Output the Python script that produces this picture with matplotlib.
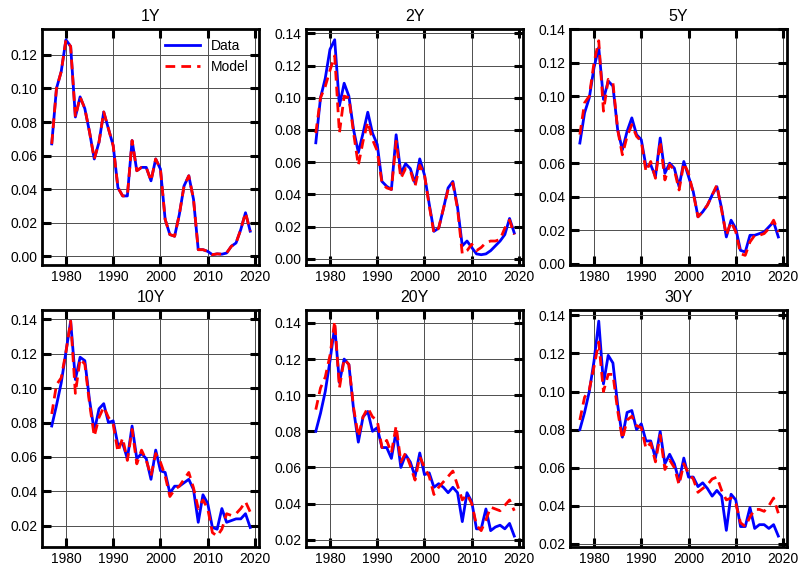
import numpy as np
import matplotlib
matplotlib.use("Agg")
import matplotlib.pyplot as plt

plt.rcParams['font.family'] = ['Liberation Sans', 'DejaVu Sans']

years = np.arange(1977, 2020)
titles = ['1Y', '2Y', '5Y', '10Y', '20Y', '30Y']

data_1y = [0.067, 0.100, 0.110, 0.129, 0.125, 0.083, 0.095, 0.088, 0.074, 0.058,
           0.068, 0.086, 0.076, 0.066, 0.041, 0.036, 0.036, 0.069, 0.051, 0.053,
           0.053, 0.045, 0.058, 0.052, 0.022, 0.013, 0.012, 0.025, 0.042, 0.048,
           0.034, 0.004, 0.004, 0.003, 0.001, 0.0015, 0.0013, 0.002, 0.006, 0.008,
           0.016, 0.026, 0.015]
model_1y = [0.067, 0.100, 0.110, 0.129, 0.125, 0.083, 0.095, 0.088, 0.074, 0.058,
            0.068, 0.086, 0.076, 0.066, 0.041, 0.036, 0.036, 0.069, 0.051, 0.053,
            0.053, 0.045, 0.058, 0.052, 0.022, 0.013, 0.012, 0.025, 0.042, 0.048,
            0.034, 0.004, 0.004, 0.003, 0.001, 0.0015, 0.0013, 0.002, 0.006, 0.008,
            0.016, 0.026, 0.015]

data_2y = [0.072, 0.100, 0.112, 0.130, 0.136, 0.095, 0.109, 0.101, 0.080, 0.066,
           0.078, 0.091, 0.078, 0.071, 0.048, 0.045, 0.043, 0.077, 0.053, 0.059,
           0.056, 0.047, 0.062, 0.052, 0.034, 0.017, 0.019, 0.031, 0.044, 0.048,
           0.032, 0.008, 0.011, 0.007, 0.003, 0.0025, 0.003, 0.005, 0.008, 0.011,
           0.015, 0.025, 0.016]
model_2y = [0.078, 0.100, 0.107, 0.117, 0.126, 0.078, 0.101, 0.100, 0.078, 0.058,
            0.073, 0.085, 0.074, 0.067, 0.047, 0.044, 0.043, 0.073, 0.050, 0.056,
            0.055, 0.045, 0.058, 0.052, 0.033, 0.016, 0.019, 0.031, 0.043, 0.047,
            0.031, 0.003, 0.005, 0.009, 0.005, 0.007, 0.010, 0.011, 0.011, 0.012,
            0.019, 0.024, 0.015]

data_5y = [0.072, 0.090, 0.099, 0.117, 0.129, 0.098, 0.109, 0.106, 0.080, 0.068,
           0.079, 0.087, 0.077, 0.074, 0.058, 0.059, 0.052, 0.075, 0.054, 0.060,
           0.057, 0.046, 0.061, 0.052, 0.043, 0.028, 0.031, 0.035, 0.041, 0.046,
           0.033, 0.016, 0.026, 0.021, 0.008, 0.007, 0.017, 0.017, 0.018, 0.019,
           0.022, 0.025, 0.016]
model_5y = [0.077, 0.096, 0.100, 0.120, 0.133, 0.091, 0.110, 0.108, 0.080, 0.065,
            0.076, 0.083, 0.076, 0.073, 0.055, 0.061, 0.051, 0.073, 0.050, 0.059,
            0.056, 0.044, 0.060, 0.054, 0.042, 0.028, 0.031, 0.035, 0.041, 0.047,
            0.032, 0.017, 0.025, 0.019, 0.006, 0.005, 0.013, 0.017, 0.017, 0.018,
            0.021, 0.026, 0.019]

data_10y = [0.078, 0.090, 0.103, 0.121, 0.139, 0.105, 0.118, 0.116, 0.093, 0.075,
            0.088, 0.091, 0.080, 0.081, 0.067, 0.068, 0.059, 0.078, 0.059, 0.062,
            0.059, 0.047, 0.064, 0.052, 0.051, 0.039, 0.043, 0.043, 0.045, 0.047,
            0.041, 0.022, 0.038, 0.033, 0.019, 0.018, 0.030, 0.022, 0.023, 0.024,
            0.024, 0.027, 0.019]
model_10y = [0.085, 0.102, 0.106, 0.121, 0.139, 0.097, 0.117, 0.114, 0.091, 0.072,
             0.083, 0.089, 0.083, 0.079, 0.063, 0.071, 0.058, 0.076, 0.056, 0.064,
             0.058, 0.049, 0.062, 0.057, 0.049, 0.037, 0.041, 0.043, 0.047, 0.051,
             0.042, 0.030, 0.035, 0.030, 0.016, 0.014, 0.018, 0.027, 0.026, 0.027,
             0.030, 0.034, 0.028]

data_20y = [0.080, 0.090, 0.102, 0.119, 0.138, 0.107, 0.120, 0.117, 0.092, 0.074,
            0.088, 0.091, 0.080, 0.082, 0.071, 0.071, 0.065, 0.080, 0.060, 0.067,
            0.063, 0.055, 0.068, 0.056, 0.057, 0.049, 0.051, 0.049, 0.046, 0.049,
            0.046, 0.030, 0.046, 0.041, 0.026, 0.026, 0.037, 0.025, 0.027, 0.028,
            0.026, 0.029, 0.022]
model_20y = [0.092, 0.104, 0.110, 0.122, 0.141, 0.104, 0.120, 0.117, 0.093, 0.077,
             0.088, 0.093, 0.088, 0.086, 0.071, 0.075, 0.068, 0.083, 0.063, 0.068,
             0.061, 0.053, 0.066, 0.060, 0.055, 0.045, 0.049, 0.052, 0.055, 0.058,
             0.050, 0.042, 0.045, 0.040, 0.028, 0.025, 0.031, 0.038, 0.037, 0.036,
             0.039, 0.042, 0.036]

data_30y = [0.080, 0.089, 0.100, 0.116, 0.137, 0.104, 0.119, 0.115, 0.093, 0.076,
            0.089, 0.090, 0.080, 0.083, 0.074, 0.074, 0.065, 0.079, 0.062, 0.067,
            0.062, 0.053, 0.065, 0.055, 0.055, 0.050, 0.052, 0.049, 0.045, 0.048,
            0.045, 0.027, 0.046, 0.043, 0.029, 0.029, 0.039, 0.028, 0.030, 0.030,
            0.028, 0.030, 0.024]
model_30y = [0.085, 0.097, 0.101, 0.113, 0.126, 0.100, 0.109, 0.109, 0.090, 0.075,
             0.085, 0.087, 0.082, 0.081, 0.070, 0.073, 0.063, 0.077, 0.059, 0.064,
             0.060, 0.051, 0.062, 0.057, 0.054, 0.047, 0.049, 0.051, 0.054, 0.055,
             0.048, 0.043, 0.044, 0.041, 0.031, 0.029, 0.034, 0.038, 0.038, 0.037,
             0.040, 0.044, 0.036]

data_all = [data_1y, data_2y, data_5y, data_10y, data_20y, data_30y]
model_all = [model_1y, model_2y, model_5y, model_10y, model_20y, model_30y]

fig, axes = plt.subplots(2, 3, figsize=(7.98, 5.69), dpi=100)
plt.subplots_adjust(left=0.053, right=0.986, top=0.949, bottom=0.039,
                    wspace=0.22, hspace=0.19)

for i, ax in enumerate(axes.flat):
    ax.plot(years, data_all[i], color='#0000ff', lw=2, label='Data')
    ax.plot(years, model_all[i], color='#ff0000', lw=2, ls=(0, (3.5, 2.2)), label='Model')
    ax.set_title(titles[i], fontsize=11.5)
    ax.set_xlim(1975, 2020.8)
    ax.set_xticks([1980, 1990, 2000, 2010, 2020])
    ax.grid(True, color='0.3', lw=0.7)
    ax.tick_params(direction='in', length=6.5, width=2.2, top=True, right=True,
                   labelsize=10)
    for sp in ax.spines.values():
        sp.set_linewidth(2)
    ax.set_axisbelow(True)

# 5Y panel reaches the 0.14 gridline at the top
axes[0, 2].set_ylim(-0.001, 0.14)

axes[0, 0].legend(loc='upper right', frameon=False, fontsize=10,
                  handlelength=2.5, borderaxespad=0.3)

plt.savefig('out.png', dpi=100)
